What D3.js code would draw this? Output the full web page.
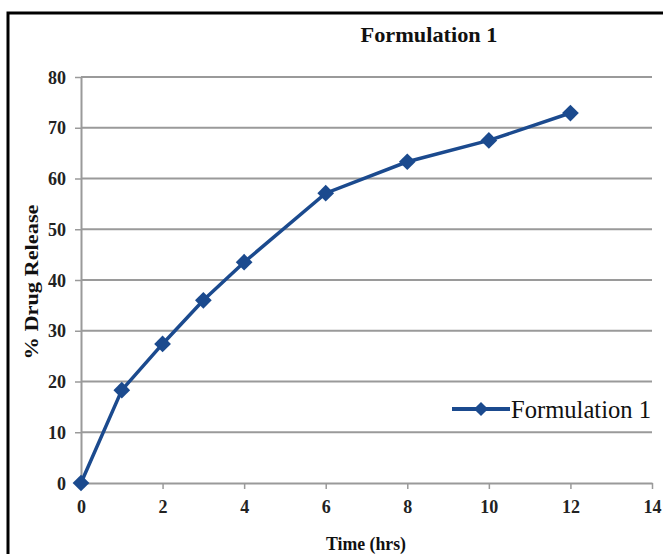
<!DOCTYPE html>
<html><head><meta charset="utf-8">
<script src="https://cdn.jsdelivr.net/npm/d3@7"></script>
<style>body{margin:0;background:#fff}svg{display:block}</style>
</head><body>
<svg id="c" width="663" height="554"></svg>
<script>
const time = [0, 1, 2, 3, 4, 6, 8, 10, 12];
const release = [0, 18.3, 27.4, 36, 43.5, 57.1, 63.3, 67.5, 72.9];
const xTicks = [0, 2, 4, 6, 8, 10, 12, 14];
const yTicks = [0, 10, 20, 30, 40, 50, 60, 70, 80];
const seriesName = "Formulation 1";

const svg = d3.select("#c");
const blue = "#1b4a8e";
const x = d3.scaleLinear().domain([0, 14]).range([81, 652]);
const y = d3.scaleLinear().domain([0, 80]).range([483, 77]);

// frame
svg.append("path").attr("d", "M8,560 L8,13 L670,13").attr("fill", "none").attr("stroke", "#000").attr("stroke-width", 3);

// gridlines
svg.append("g").selectAll("line").data(yTicks.slice(1)).join("line")
  .attr("x1", x(0)).attr("x2", x(14)).attr("y1", d => y(d)).attr("y2", d => y(d))
  .attr("stroke", "#9a9a9a").attr("stroke-width", 2);

const font = "'Liberation Serif','Times New Roman',serif";

// y axis
const ya = svg.append("g").attr("transform", `translate(${x(0)},0)`)
  .call(d3.axisLeft(y).tickValues(yTicks).tickSize(6).tickPadding(9).tickSizeOuter(0));
// x axis
const xa = svg.append("g").attr("transform", `translate(0,${y(0)})`)
  .call(d3.axisBottom(x).tickValues(xTicks).tickSize(6).tickPadding(11).tickSizeOuter(0));
[ya, xa].forEach(a => {
  a.select(".domain").attr("stroke", "#9a9a9a").attr("stroke-width", 2);
  a.selectAll(".tick line").attr("stroke", "#9a9a9a").attr("stroke-width", 1.5);
  a.selectAll(".tick text").attr("font-family", font).attr("font-weight", "bold")
    .attr("font-size", 19).attr("fill", "#222")
    .attr("textLength", d => String(d).length * 9).attr("lengthAdjust", "spacingAndGlyphs");
});

// line
const line = d3.line().x((d, i) => x(time[i])).y(d => y(d));
svg.append("path").datum(release).attr("d", line)
  .attr("fill", "none").attr("stroke", blue).attr("stroke-width", 3.5);

svg.append("g").selectAll("path").data(release).join("path")
  .attr("transform", (d, i) => `translate(${x(time[i])},${y(d)}) rotate(45)`)
  .attr("d", d3.symbol().type(d3.symbolSquare).size(140))
  .attr("fill", blue);

// title
svg.append("text").attr("x", 429).attr("y", 42).attr("text-anchor", "middle")
  .attr("font-family", font).attr("font-weight", "bold").attr("font-size", 22)
  .attr("textLength", 137).attr("lengthAdjust", "spacingAndGlyphs")
  .attr("fill", "#111").text(seriesName);

// axis titles
svg.append("text").attr("x", 366).attr("y", 550).attr("text-anchor", "middle")
  .attr("font-family", font).attr("font-weight", "bold").attr("font-size", 19)
  .attr("textLength", 80).attr("lengthAdjust", "spacingAndGlyphs")
  .attr("fill", "#111").text("Time (hrs)");
svg.append("text").attr("transform", "translate(38,282) rotate(-90)").attr("text-anchor", "middle")
  .attr("font-family", font).attr("font-weight", "bold").attr("font-size", 19)
  .attr("textLength", 155).attr("lengthAdjust", "spacingAndGlyphs")
  .attr("fill", "#111").text("% Drug Release");

// legend
svg.append("line").attr("x1", 452).attr("x2", 510).attr("y1", 409).attr("y2", 409)
  .attr("stroke", blue).attr("stroke-width", 4);
svg.append("path").attr("transform", "translate(481,409) rotate(45)")
  .attr("d", d3.symbol().type(d3.symbolSquare).size(100)).attr("fill", blue);
svg.append("text").attr("x", 511).attr("y", 418)
  .attr("font-family", font).attr("font-size", 26)
  .attr("textLength", 140).attr("lengthAdjust", "spacingAndGlyphs")
  .attr("fill", "#111").text(seriesName);
</script>
</body></html>
